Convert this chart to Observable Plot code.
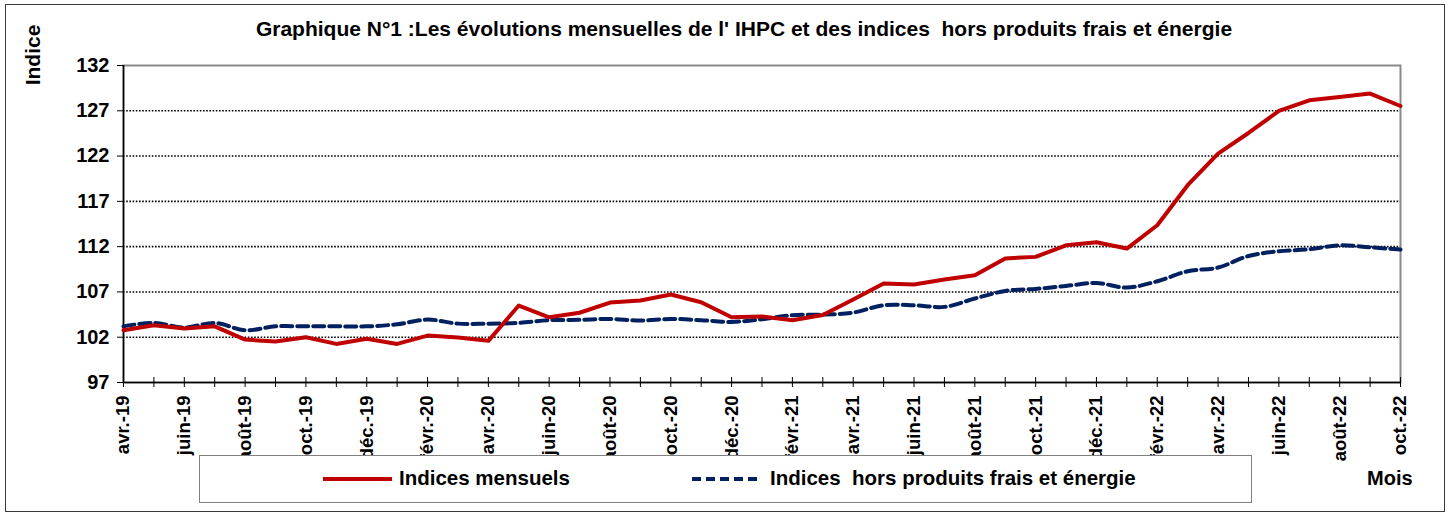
<!DOCTYPE html>
<html>
<head>
<meta charset="utf-8">
<script src="https://cdn.jsdelivr.net/npm/d3@7"></script>
<script src="https://cdn.jsdelivr.net/npm/@observablehq/plot@0.6"></script>
<style>
  html, body { margin: 0; padding: 0; background: #fff; }
  #wrap { position: relative; width: 1453px; height: 517px; overflow: hidden; font-family: "Liberation Sans", Arial, sans-serif; }
  #wrap svg text { font-weight: bold; }
  .abs { position: absolute; font-weight: bold; color: #000; white-space: pre; line-height: 1; }
</style>
</head>
<body>
<div id="wrap"></div>
<script>
const months = [
  "avr.-19","mai-19","juin-19","juil.-19","août-19","sept.-19","oct.-19","nov.-19","déc.-19",
  "janv.-20","févr.-20","mars-20","avr.-20","mai-20","juin-20","juil.-20","août-20","sept.-20","oct.-20","nov.-20","déc.-20",
  "janv.-21","févr.-21","mars-21","avr.-21","mai-21","juin-21","juil.-21","août-21","sept.-21","oct.-21","nov.-21","déc.-21",
  "janv.-22","févr.-22","mars-22","avr.-22","mai-22","juin-22","juil.-22","août-22","sept.-22","oct.-22"
];
const indicesMensuels = [
  102.77,103.32,102.96,103.2,101.74,101.52,102.0,101.26,101.82,
  101.26,102.18,101.96,101.6,105.5,104.2,104.7,105.83,106.05,106.71,105.86,104.2,
  104.3,103.88,104.46,106.16,107.93,107.82,108.37,108.84,110.7,110.87,112.15,112.49,
  111.79,114.36,118.78,122.27,124.55,126.98,128.16,128.53,128.9,127.53
];
const indicesHorsPFE = [
  103.2,103.58,103.07,103.58,102.77,103.2,103.2,103.2,103.2,
  103.43,103.95,103.5,103.5,103.58,103.88,103.92,104.02,103.84,104.02,103.88,103.69,
  103.99,104.43,104.5,104.72,105.53,105.53,105.35,106.27,107.11,107.33,107.66,107.99,
  107.48,108.18,109.28,109.69,110.97,111.49,111.71,112.15,111.93,111.68
];
const yTicks = [97,102,107,112,117,122,127,132];
const gridTicks = [102,107,112,117,122,127];
const labelTicks = months.filter((d, i) => i % 2 === 0);

const title = "Graphique N°1 :Les évolutions mensuelles de l' IHPC et des indices  hors produits frais et énergie";
const yLabel = "Indice";
const xLabel = "Mois";
const seriesNames = ["Indices mensuels", "Indices  hors produits frais et énergie"];
const colors = ["#c00000", "#002060"];

const rowsA = months.map((m, i) => ({m, v: indicesMensuels[i]}));
const rowsB = months.map((m, i) => ({m, v: indicesHorsPFE[i]}));

const chart = Plot.plot({
  width: 1453,
  height: 517,
  marginLeft: 123,
  marginRight: 53,
  marginTop: 65,
  marginBottom: 135,
  style: {fontFamily: "'Liberation Sans', Arial, sans-serif", fontSize: "18px", color: "#000", background: "transparent"},
  x: {type: "point", domain: months, padding: 0, round: false, label: null},
  y: {domain: [97, 132], label: null},
  marks: [
    Plot.gridY(gridTicks, {stroke: "#000", strokeOpacity: 1, strokeWidth: 1.6, strokeDasharray: "1.6,1.6"}),
    Plot.frame({stroke: "#8a8a8a", strokeWidth: 2}),
    Plot.ruleY([97], {stroke: "#000", strokeWidth: 1.5}),
    Plot.ruleX([months[0]], {stroke: "#000", strokeWidth: 1.5}),
    Plot.axisY({ticks: yTicks, tickSize: 6, tickPadding: 8, fontSize: 20, fontWeight: "bold", stroke: "#000", label: null}),
    Plot.axisX({ticks: months, tickSize: 10, dy: -5, text: null, stroke: "#000", label: null}),
    Plot.axisX({ticks: labelTicks, tickSize: 0, tickPadding: 13, tickRotate: -90, fontSize: 18.5, fontWeight: "bold", label: null}),
    Plot.line(rowsB, {x: "m", y: "v", stroke: colors[1], strokeWidth: 4, strokeDasharray: "11,5", curve: "catmull-rom"}),
    Plot.line(rowsA, {x: "m", y: "v", stroke: colors[0], strokeWidth: 4})
  ]
});

const wrap = document.getElementById("wrap");
wrap.appendChild(chart);
chart.style.position = "absolute";
chart.style.left = "0px";
chart.style.top = "0px";

function addDiv(html, css) {
  const d = document.createElement("div");
  d.className = "abs";
  d.innerHTML = html;
  Object.assign(d.style, css);
  wrap.appendChild(d);
  return d;
}
// outer border
addDiv("", {left: "5px", top: "4px", width: "1440px", height: "508px", border: "1px solid #3a3a3a", boxSizing: "border-box"});
// title
addDiv(title, {left: "0px", width: "1488px", top: "18px", fontSize: "21px", textAlign: "center"});
// y label
addDiv(yLabel, {left: "32px", top: "55px", fontSize: "21px", transform: "translate(-50%,-50%) rotate(-90deg)"});
// x label
addDiv(xLabel, {left: "1367px", top: "468px", fontSize: "20px"});
// legend box
addDiv("", {left: "199px", top: "455px", width: "1053px", height: "48px", border: "1.5px solid #808080", background: "#fff", boxSizing: "border-box"});
const ns = "http://www.w3.org/2000/svg";
const ls = document.createElementNS(ns, "svg");
ls.setAttribute("width", "1453"); ls.setAttribute("height", "517");
Object.assign(ls.style, {position: "absolute", left: "0px", top: "0px"});
function seg(x1, x2, y, color, dash) {
  const l = document.createElementNS(ns, "line");
  l.setAttribute("x1", x1); l.setAttribute("x2", x2); l.setAttribute("y1", y); l.setAttribute("y2", y);
  l.setAttribute("stroke", color); l.setAttribute("stroke-width", "4");
  if (dash) l.setAttribute("stroke-dasharray", dash);
  ls.appendChild(l);
}
seg(323, 392, 479, colors[0]);
seg(692, 762, 479, colors[1], "9,5");
wrap.appendChild(ls);
addDiv(seriesNames[0], {left: "399px", top: "468px", fontSize: "20.5px"});
addDiv(seriesNames[1], {left: "770px", top: "468px", fontSize: "20.5px"});
</script>
</body>
</html>
